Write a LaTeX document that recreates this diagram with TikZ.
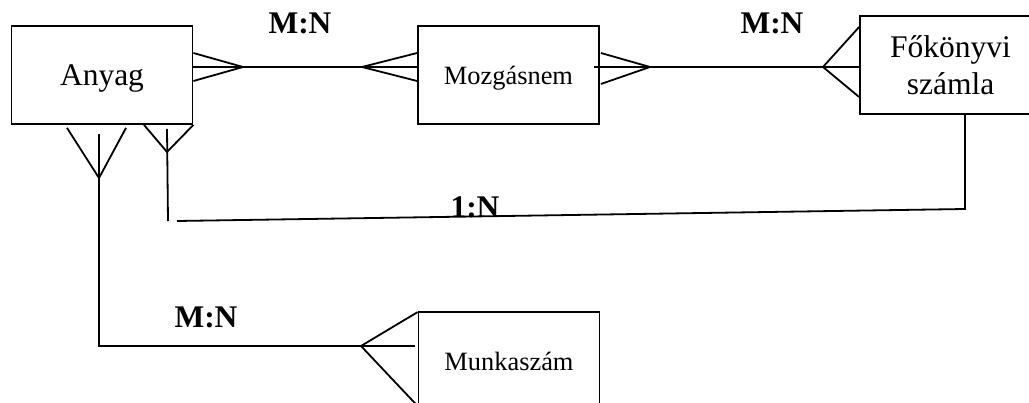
\documentclass[tikz,border=0pt]{standalone}
\usepackage{fontspec}
\setmainfont{Liberation Serif}
\usetikzlibrary{calc}
\begin{document}
\begin{tikzpicture}[x=1pt,y=-1pt,line width=1.8pt,
	entity/.style={draw,minimum width=181pt,minimum height=98pt,inner sep=0pt},
	bigtext/.style={font=\fontsize{31.5}{37}\selectfont},
	smalltext/.style={font=\fontsize{26.4}{32}\selectfont},
	card/.style={font=\fontsize{31.5}{37}\selectfont\bfseries,inner sep=0pt}]
	\useasboundingbox (0,0) rectangle (1029,403);
	\clip (0,0) rectangle (1029,403);
	\node[entity,bigtext,text depth=0pt] (anyag) at (102,75) {Anyag};
	\node[entity,smalltext,text depth=0pt] (mozgas) at (508.5,75) {Mozgásnem};
	\node[entity,bigtext,align=center] (fokonyv) at (950.5,65) {Főkönyvi\\számla};
	\node[entity,smalltext,text depth=0pt] (munka) at (509,361) {Munkaszám};
	\coordinate (am1) at (243,67);
	\coordinate (am2) at (362,67);
	\draw (anyag.east |- am1) -- (mozgas.west |- am2);
	\draw ($(anyag.east |- am1)+(0,-14)$) -- (am1) -- ($(anyag.east |- am1)+(0,14)$);
	\draw ($(mozgas.west |- am2)+(0,-14)$) -- (am2) -- ($(mozgas.west |- am2)+(0,14)$);
	\coordinate (mf1) at (650,67);
	\coordinate (mf2) at (823,67);
	\draw ($(mozgas.east |- mf1)+(-6,0)$) -- (fokonyv.west |- mf2);
	\draw ($(mozgas.east |- mf1)+(1,-14)$) -- (mf1) -- ($(mozgas.east |- mf1)+(1,17)$);
	\draw ($(fokonyv.west |- mf2)+(0,-40)$) -- (mf2) -- ($(fokonyv.west |- mf2)+(0,30)$);
	\coordinate (fa1) at (965,209);
	\coordinate (fa2) at (177,221);
	\coordinate (fa3) at (167,152);
	\coordinate (fa4) at (168,221);
	\draw (fokonyv.south -| fa1) -- (fa1) -- (fa2);
	\draw ($(anyag.south -| fa3)+(0,4)$) -- (fa4);
	\draw ($(anyag.south -| fa3)+(-23,0)$) -- (fa3) -- (anyag.south east);
	\coordinate (ak1) at (99,178);
	\coordinate (ak2) at (99,346);
	\coordinate (ak3) at (361,346);
	\draw ($(anyag.south -| ak1)+(-32,3)$) -- (ak1) -- ($(anyag.south -| ak1)+(27,3)$);
	\draw ($(anyag.south -| ak1)+(0,9)$) -- (ak2) -- (ak3) -- ($(munka.west |- ak3)+(-3,0)$);
	\draw ($(munka.north west)+(0,1)$) -- (ak3) -- ($(munka.west |- ak3)+(0,60)$);
	\node[card] (mn1) at (300,23) {M:N};
	\node[card] (mn2) at (772,23) {M:N};
	\node[card] (on) at (475,207) {1:N};
	\node[card] (mn3) at (206,317) {M:N};
\end{tikzpicture}
\end{document}
